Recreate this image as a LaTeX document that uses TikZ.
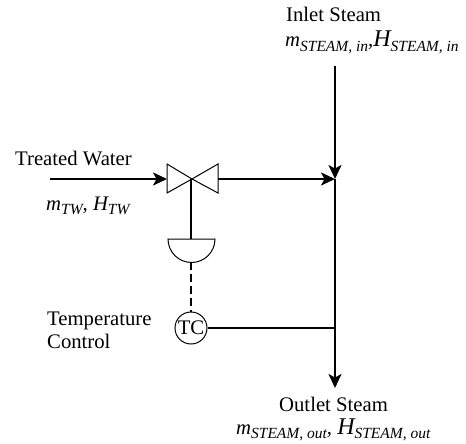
\documentclass[tikz,border=0pt]{standalone}
\usepackage{fontspec}
\setmainfont{Liberation Serif}
\usetikzlibrary{arrows.meta}
\newcommand{\subtxt}[1]{\raisebox{-4.5pt}{\fontsize{15.5}{16}\selectfont\itshape #1}}
\tikzset{
  flow/.style={line width=2pt,-{Stealth[length=14pt,width=13pt,inset=3.5pt]}},
  pipe/.style={line width=2pt},
  sym/.style={line width=1pt},
  lbl/.style={anchor=base west,inner sep=0pt,font=\fontsize{20.7}{24}\selectfont},
}
\begin{document}
\begin{tikzpicture}[x=1pt,y=-1pt]
\useasboundingbox (0,0) rectangle (466,444);
% named points
\coordinate (twin) at (50,179);
\coordinate (vl) at (167,179);
\coordinate (vc) at (192,179);
\coordinate (vr) at (218,179);
\coordinate (stem) at (191,179);
\coordinate (act) at (191,239);
\coordinate (actb) at (191,262);
\coordinate (mix) at (335,179);
\coordinate (sin) at (335,66);
\coordinate (sout) at (335,388);
\coordinate (tap) at (335,328);
\node[circle,draw,sym,minimum size=32pt,inner sep=0pt,font=\fontsize{20.7}{24}\selectfont] (tc) at (191,328) {TC};
% valve and actuator
\draw[sym] (vc) -- (167,164) -- (167,193) -- cycle;
\draw[sym] (vc) -- (218,164) -- (218,193) -- cycle;
\draw[sym] (168,239) -- (215,239) arc[start angle=0,end angle=180,radius=23.5] -- cycle;
% connectors
\draw[flow] (twin) -- (vl);
\draw[flow] (vr) -- (mix);
\draw[flow] (sin) -- (mix);
\draw[flow] (mix) -- (sout);
\draw[pipe] (stem) -- (act);
\draw[pipe,dash pattern=on 8pt off 4pt] (actb) -- (tc.north);
\draw[pipe] (tc.east) -- (tap);
% labels
\node[lbl] (l1) at (15,165) {Treated Water};
\node[lbl] (l2) at (46,210) {\itshape m\subtxt{TW}, H\subtxt{TW}};
\node[lbl] (l3) at (47,325) {Temperature};
\node[lbl] (l4) at (47,348) {Control};
\node[lbl] (l5) at (286,22) {Inlet Steam};
\node[lbl] (l6) at (285,47) {\itshape m\subtxt{STEAM, in},\fontsize{24}{26}\selectfont H\subtxt{STEAM, in}};
\node[lbl] (l7) at (279,411) {Outlet Steam};
\node[lbl] (l8) at (236,434) {\itshape m\subtxt{STEAM, out}, \fontsize{24}{26}\selectfont H\subtxt{STEAM, out}};
\end{tikzpicture}
\end{document}
